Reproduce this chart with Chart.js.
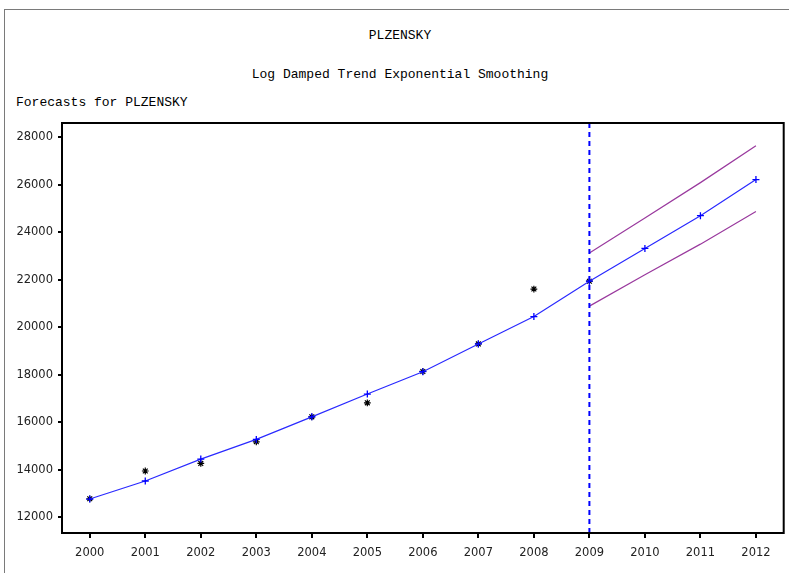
<!DOCTYPE html>
<html>
<head>
<meta charset="utf-8">
<script src="https://cdn.jsdelivr.net/npm/chart.js@4/dist/chart.umd.min.js"></script>
<style>
  body { margin: 0; background: #fff; }
  #wrap { position: relative; width: 789px; height: 573px; overflow: hidden; }
  #frame { position: absolute; left: 4px; top: 9px; width: 800px; height: 600px;
           border-top: 1px solid #7a7a7a; border-left: 1px solid #7a7a7a; }
  .t { position: absolute; font-family: "Liberation Mono", "Courier New", Courier, monospace; font-size: 13px; color: #000; white-space: pre; }
  canvas { position: absolute; left: 0; top: 0; }
</style>
</head>
<body>
<div id="wrap">
  <div id="frame"></div>
  <div class="t" style="left:0;width:800px;text-align:center;top:28px;">PLZENSKY</div>
  <div class="t" style="left:0;width:800px;text-align:center;top:67px;">Log Damped Trend Exponential Smoothing</div>
  <div class="t" style="left:16px;top:95px;">Forecasts for PLZENSKY</div>
  <canvas id="c" width="789" height="573"></canvas>
</div>
<script>
// === DATA ===
let years = ['2000', '2001', '2002', '2003', '2004', '2005', '2006', '2007', '2008', '2009', '2010', '2011', '2012'];
let actual = [12770, 13940, 14260, 15170, 16220, 16810, 18130, 19290, 21600, 21930, null, null, null];
let forecast = [12760, 13520, 14440, 15270, 16220, 17180, 18120, 19290, 20440, 21930, 23310, 24690, 26210];
let upper = [null, null, null, null, null, null, null, null, null, 23120, 24590, 26080, 27630];
let lower = [null, null, null, null, null, null, null, null, null, 20880, 22200, 23490, 24860];
let yTicks = [12000, 14000, 16000, 18000, 20000, 22000, 24000, 26000, 28000];
let forecastStart = '2009';

// frame round the plot area + dashed reference line
let plotExtras = {
    id: 'plotExtras',
    afterDatasetsDraw(chart) {
        let ctx = chart.ctx;
        let a = chart.chartArea;
        let x = chart.scales.x.getPixelForValue(years.indexOf(forecastStart));
        ctx.save();
        ctx.strokeStyle = '#0000ff';
        ctx.lineWidth = 2;
        ctx.setLineDash([5, 4]);
        ctx.beginPath();
        ctx.moveTo(x, a.top);
        ctx.lineTo(x, a.bottom);
        ctx.stroke();
        ctx.restore();
    },
    afterDraw(chart) {
        let ctx = chart.ctx;
        let a = chart.chartArea;
        ctx.save();
        ctx.strokeStyle = '#000';
        ctx.lineWidth = 2;
        ctx.strokeRect(a.left, a.top, a.right - a.left, a.bottom - a.top);
        ctx.restore();
    }
};

let tickFont = { family: 'DejaVu Sans', size: 11.5 };

new Chart(document.getElementById('c'), {
    type: 'line',
    data: {
        labels: years,
        datasets: [
            {
                label: 'Upper',
                data: upper,
                borderColor: '#9a3a9e',
                borderWidth: 1.2,
                pointRadius: 0
            },
            {
                label: 'Lower',
                data: lower,
                borderColor: '#9a3a9e',
                borderWidth: 1.2,
                pointRadius: 0
            },
            {
                label: 'Forecast',
                data: forecast,
                borderColor: '#2a2aff',
                borderWidth: 1.2,
                pointStyle: 'cross',
                pointRadius: 3.5,
                pointBorderWidth: 1.3,
                pointBorderColor: '#0000ff'
            },
            {
                label: 'Actual',
                data: actual,
                showLine: false,
                pointStyle: 'star',
                pointRadius: 3.4,
                pointBorderWidth: 1.2,
                pointBorderColor: '#000',
                pointBackgroundColor: '#000'
            }
        ]
    },
    options: {
        responsive: false,
        animation: false,
        layout: { padding: { left: 0, top: 123, right: 3, bottom: 0 } },
        plugins: {
            legend: { display: false },
            tooltip: { enabled: false }
        },
        scales: {
            x: {
                offset: true,
                border: { display: false },
                grid: { drawOnChartArea: false, drawTicks: true, tickLength: 5, tickColor: '#000', lineWidth: 2 },
                ticks: { font: tickFont, color: '#222', padding: 8, maxRotation: 0, autoSkip: false },
                afterFit(scale) {
                    scale.height = 40;
                    scale.paddingLeft = 0;
                    scale.paddingRight = 0;
                }
            },
            y: {
                min: 11330,
                max: 28590,
                border: { display: false },
                grid: { drawOnChartArea: false, drawTicks: true, tickLength: 4, tickColor: '#000', lineWidth: 2 },
                ticks: { font: tickFont, color: '#222', padding: 5, callback: v => String(v) },
                afterBuildTicks(scale) { scale.ticks = yTicks.map(v => ({ value: v })); },
                afterFit(scale) { scale.width = 62; }
            }
        }
    },
    plugins: [plotExtras]
});
</script>
</body>
</html>
